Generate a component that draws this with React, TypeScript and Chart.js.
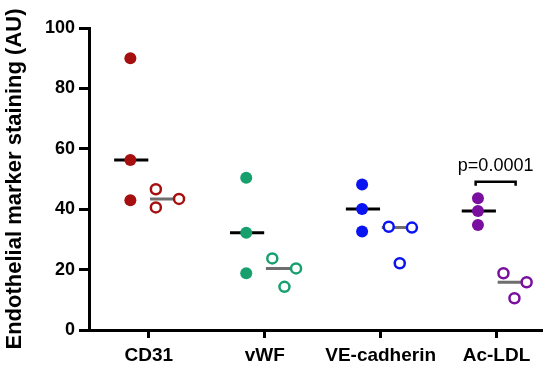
import React, { useEffect, useRef } from "react";
import { Chart, registerables } from "chart.js";

Chart.register(...registerables);

const categories = ["CD31", "vWF", "VE-cadherin", "Ac-LDL"];
const colors = ["#A50F0F", "#17A06E", "#0A14F0", "#7A0E9E"];

// filled markers (first condition)
const filledValues = [
  [90.0, 56.3, 43.0],
  [50.4, 32.2, 18.8],
  [48.2, 40.1, 32.6],
  [43.6, 39.4, 34.8],
];
// open markers (second condition)
const openValues = [
  [46.6, 40.6, 43.4],
  [23.7, 20.4, 14.3],
  [34.2, 33.9, 22.1],
  [18.8, 15.8, 10.5],
];
// horizontal jitter of open markers, in category units
const openJitter = [
  [0.06, 0.06, 0.26],
  [0.065, 0.27, 0.17],
  [0.07, 0.27, 0.165],
  [0.06, 0.26, 0.155],
];
const yTicks = [0, 20, 40, 60, 80, 100];
const pValueText = "p=0.0001";
const pValueCategory = 3;

const FILLED_OFFSET = -0.16;
const median = (arr: number[]) => {
  const s = [...arr].sort((a, b) => a - b);
  return s[Math.floor(s.length / 2)];
};

const FONT = "'Liberation Sans', Arial, sans-serif";

export default function App() {
  const ref = useRef<HTMLCanvasElement | null>(null);
  useEffect(() => {
    document.body.style.margin = "0";
    if (!ref.current) return;
    const datasets: any[] = [];
    categories.forEach((_, ci) => {
      datasets.push({
        type: "scatter",
        data: filledValues[ci].map((v) => ({ x: ci + FILLED_OFFSET, y: v })),
        pointRadius: 6,
        pointBorderWidth: 0,
        backgroundColor: colors[ci],
        borderColor: colors[ci],
        order: 0,
      });
      datasets.push({
        type: "scatter",
        data: openValues[ci].map((v, k) => ({ x: ci + openJitter[ci][k], y: v })),
        pointRadius: 5,
        pointBorderWidth: 2.5,
        backgroundColor: "#ffffff",
        borderColor: colors[ci],
        order: 0,
      });
      const mf = median(filledValues[ci]);
      datasets.push({
        type: "scatter",
        data: [
          { x: ci - 0.3, y: mf },
          { x: ci - 0.005, y: mf },
        ],
        showLine: true,
        pointRadius: 0,
        borderColor: "#000000",
        borderWidth: 3,
        order: 1,
      });
      const mo = median(openValues[ci]);
      datasets.push({
        type: "scatter",
        data: [
          { x: ci + 0.01, y: mo },
          { x: ci + 0.3, y: mo },
        ],
        showLine: true,
        pointRadius: 0,
        borderColor: "#6e6e6e",
        borderWidth: 3,
        order: 1,
      });
    });

    const pPlugin = {
      id: "pvalue",
      afterDatasetsDraw(chart: any) {
        const { ctx, scales } = chart;
        const xs = scales.x;
        const ys = scales.y;
        const x1 = xs.getPixelForValue(pValueCategory - 0.18);
        const x2 = xs.getPixelForValue(pValueCategory + 0.165);
        const yb = ys.getPixelForValue(49.1);
        ctx.save();
        ctx.strokeStyle = "#000";
        ctx.lineWidth = 2.5;
        ctx.beginPath();
        ctx.moveTo(x1, yb + 4);
        ctx.lineTo(x1, yb);
        ctx.lineTo(x2, yb);
        ctx.lineTo(x2, yb + 4);
        ctx.stroke();
        ctx.fillStyle = "#000";
        ctx.font = `18px ${FONT}`;
        ctx.textAlign = "center";
        ctx.textBaseline = "alphabetic";
        ctx.fillText(pValueText, (x1 + x2) / 2, ys.getPixelForValue(52.5));
        ctx.restore();
      },
    };

    const chart = new Chart(ref.current, {
      type: "scatter",
      data: { datasets },
      plugins: [pPlugin],
      options: {
        animation: false,
        responsive: false,
        maintainAspectRatio: false,
        layout: { padding: { top: 28, right: 7, bottom: 0, left: 0 } },
        plugins: { legend: { display: false }, tooltip: { enabled: false } },
        scales: {
          x: {
            type: "linear",
            min: -0.517,
            max: 3.397,
            afterBuildTicks: (scale: any) => {
              scale.ticks = categories.map((_, i) => ({ value: i }));
            },
            afterFit: (scale: any) => {
              scale.height = 41;
            },
            ticks: {
              callback: (v: any) => categories[Math.round(Number(v))] ?? "",
              color: "#000",
              font: { family: FONT, size: 19, weight: "bold" },
              padding: 6,
              maxRotation: 0,
              autoSkip: false,
            },
            grid: {
              drawOnChartArea: false,
              drawTicks: true,
              tickLength: 8,
              tickWidth: 3,
              tickColor: "#000",
            },
            border: { display: true, color: "#000", width: 3 },
          },
          y: {
            type: "linear",
            min: 0,
            max: 100,
            afterBuildTicks: (scale: any) => {
              scale.ticks = yTicks.map((v) => ({ value: v }));
            },
            afterFit: (scale: any) => {
              scale.width = 89;
            },
            ticks: {
              color: "#000",
              font: { family: FONT, size: 18, weight: "bold" },
              padding: 4,
            },
            grid: {
              drawOnChartArea: false,
              drawTicks: true,
              tickLength: 10,
              tickWidth: 3,
              tickColor: "#000",
            },
            border: { display: true, color: "#000", width: 3 },
            title: {
              display: true,
              text: "Endothelial marker staining (AU)",
              color: "#000",
              font: { family: FONT, size: 22, weight: "bold" },
              padding: { top: 2, bottom: 0 },
            },
          },
        },
      },
    });
    return () => chart.destroy();
  }, []);
  return (
    <div style={{ width: 550, height: 371 }}>
      <canvas ref={ref} width={550} height={371} style={{ width: 550, height: 371, display: "block" }} />
    </div>
  );
}
